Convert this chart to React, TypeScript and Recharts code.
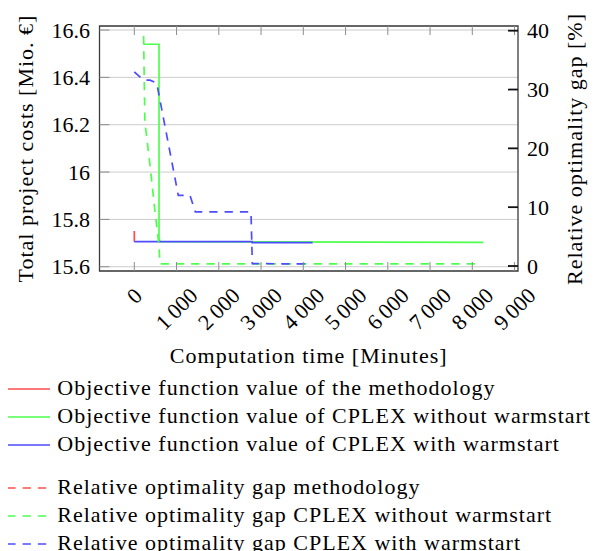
import React from 'react';
import { ComposedChart, Line, XAxis, YAxis, CartesianGrid, ReferenceArea } from 'recharts';

const FONT = 'Liberation Serif';
const FS = 22;

// Axis ticks
const xTicks = [0, 1000, 2000, 3000, 4000, 5000, 6000, 7000, 8000, 9000];
const xTickLabels = ['0', '1\u2009000', '2\u2009000', '3\u2009000', '4\u2009000', '5\u2009000', '6\u2009000', '7\u2009000', '8\u2009000', '9\u2009000'];
const costTicks = [15.6, 15.8, 16, 16.2, 16.4, 16.6];
const costTickLabels = ['15.6', '15.8', '16', '16.2', '16.4', '16.6'];
const gapTicks = [0, 10, 20, 30, 40];
const gapTickLabels = ['0', '10', '20', '30', '40'];

// Objective function values [Mio. €]
const methodObjTime = [0, 0];
const methodObjCost = [15.751, 15.706];
const coldObjTime = [213, 585, 585, 608, 8260];
const coldObjCost = [16.54, 16.54, 15.72, 15.706, 15.703];
const warmObjTime = [0, 2790, 2790, 4220];
const warmObjCost = [15.706, 15.706, 15.702, 15.702];

// Relative optimality gap [%]
const methodGapTime = [0, 0];
const methodGapValue = [0, 0];
const coldGapTime = [220, 250, 371, 490, 585, 605, 8142];
const coldGapValue = [39.1, 24.5, 17.2, 9.2, 3.5, 0.35, 0.35];
const warmGapTime = [0, 213, 371, 530, 1041, 1318, 1444, 2762, 2793, 4118];
const warmGapValue = [33.0, 31.6, 31.6, 31.1, 12.0, 12.0, 9.2, 9.2, 0.4, 0.35];

const legendLabels = [
  'Objective function value of the methodology',
  'Objective function value of CPLEX without warmstart',
  'Objective function value of CPLEX with warmstart',
  'Relative optimality gap methodology',
  'Relative optimality gap CPLEX without warmstart',
  'Relative optimality gap CPLEX with warmstart',
];

const RED = '#ff4d4d';
const GREEN = '#4dff4d';
const BLUE = '#4d4dff';
const legendColors = [RED, GREEN, BLUE, RED, GREEN, BLUE];
const legendDashed = [false, false, false, true, true, true];

const X_DOMAIN: [number, number] = [-824, 9082];
const COST_DOMAIN: [number, number] = [15.582, 16.617];
const GAP_DOMAIN: [number, number] = [-0.85, 40.8];

const toPoints = (t: number[], v: number[]) => t.map((x, i) => ({ t: x, v: v[i] }));

const PLOT_H = 245;

function XTick(props: any) {
  const { x, y, payload } = props;
  const idx = xTicks.indexOf(payload.value);
  const label = idx >= 0 ? xTickLabels[idx] : String(payload.value);
  const digits = label.replace(/[^0-9]/g, '').length;
  const spaces = label.length - digits;
  const L = FS * (0.5 * digits + 0.17 * spaces);
  const ext = (L + 14) * 0.7071;
  const cx = x;
  const cy = y + 16 + ext / 2;
  return (
    <g>
      <line x1={x} x2={x} y1={y} y2={y - 9} stroke="#8c8c8c" strokeWidth={1} />
      <line x1={x} x2={x} y1={y - PLOT_H} y2={y - PLOT_H + 9} stroke="#8c8c8c" strokeWidth={1} />
      <text
        x={cx}
        y={cy}
        textAnchor="middle"
        dominantBaseline="central"
        transform={`rotate(-45 ${cx} ${cy})`}
        fontFamily={FONT}
        fontSize={FS}
        fill="#000"
      >
        {label}
      </text>
    </g>
  );
}

function CostTick(props: any) {
  const { x, y, payload } = props;
  const idx = costTicks.indexOf(payload.value);
  const label = idx >= 0 ? costTickLabels[idx] : String(payload.value);
  return (
    <g>
      <line x1={x} x2={x + 10} y1={y} y2={y} stroke="#8c8c8c" strokeWidth={1} />
      <text x={x - 9.5} y={y + 7.5} textAnchor="end" fontFamily={FONT} fontSize={FS} fill="#000">
        {label}
      </text>
    </g>
  );
}

function GapTick(props: any) {
  const { x, y, payload } = props;
  const idx = gapTicks.indexOf(payload.value);
  const label = idx >= 0 ? gapTickLabels[idx] : String(payload.value);
  return (
    <g>
      <line x1={x - 10} x2={x} y1={y} y2={y} stroke="#111" strokeWidth={1.8} />
      <text x={x + 9} y={y + 7.5} textAnchor="start" fontFamily={FONT} fontSize={FS} fill="#000">
        {label}
      </text>
    </g>
  );
}

export default function App() {
  return (
    <div style={{ position: 'relative', width: 599, height: 543 }}>
      <svg
        width={599}
        height={543}
        style={{ position: 'absolute', left: 0, top: 0, overflow: 'visible', pointerEvents: 'none' }}
      >
        <text x={300.75} y={355} textAnchor="middle" fontFamily={FONT} fontSize={FS} letterSpacing={1} fill="#000">
          Computation time [Minutes]
        </text>
        <text x={25} y={140.5} textAnchor="middle" transform="rotate(-90 25 140.5)" fontFamily={FONT} fontSize={FS} letterSpacing={1} fill="#000">
          Total project costs [Mio. €]
        </text>
        <text x={574} y={141} textAnchor="middle" transform="rotate(-90 574 141)" fontFamily={FONT} fontSize={FS} letterSpacing={1} fill="#000">
          Relative optimality gap [%]
        </text>
        {legendLabels.map((lab, i) => {
          const lineY = [381, 409, 437, 480, 508, 536][i];
          return (
            <g key={lab}>
              <line
                x1={-0.7}
                x2={42}
                y1={lineY}
                y2={lineY}
                stroke={legendColors[i]}
                strokeWidth={1.7}
                strokeDasharray={legendDashed[i] ? '8.3 7' : undefined}
              />
              <text x={49.3} y={lineY + 6} fontFamily={FONT} fontSize={FS} letterSpacing={1} fill="#000">
                {lab}
              </text>
            </g>
          );
        })}
      </svg>
      <ComposedChart
        width={599}
        height={543}
        margin={{ top: 18, right: 0, left: 0, bottom: 0 }}
        style={{ position: 'absolute', left: 0, top: 0 }}
      >
        <CartesianGrid yAxisId="left" horizontal={true} vertical={false} stroke="#cccccc" strokeWidth={1} />
        <XAxis
          dataKey="t"
          type="number"
          domain={X_DOMAIN}
          allowDataOverflow
          ticks={xTicks}
          interval={0}
          height={280}
          tickSize={0}
          tickMargin={0}
          axisLine={false}
          tickLine={false}
          tick={<XTick />}
        />
        <YAxis
          yAxisId="left"
          orientation="left"
          type="number"
          domain={COST_DOMAIN}
          allowDataOverflow
          ticks={costTicks}
          interval={0}
          width={91.5}
          tickSize={0}
          tickMargin={0}
          axisLine={false}
          tickLine={false}
          tick={<CostTick />}
        />
        <YAxis
          yAxisId="right"
          orientation="right"
          type="number"
          domain={GAP_DOMAIN}
          allowDataOverflow
          ticks={gapTicks}
          interval={0}
          width={89}
          tickSize={0}
          tickMargin={0}
          axisLine={false}
          tickLine={false}
          tick={<GapTick />}
        />
        <Line yAxisId="left" data={toPoints(methodObjTime, methodObjCost)} dataKey="v" type="linear" stroke={RED} strokeWidth={1.7} dot={false} isAnimationActive={false} />
        <Line yAxisId="left" data={toPoints(coldObjTime, coldObjCost)} dataKey="v" type="linear" stroke={GREEN} strokeWidth={1.7} dot={false} isAnimationActive={false} />
        <Line yAxisId="left" data={toPoints(warmObjTime, warmObjCost)} dataKey="v" type="linear" stroke={BLUE} strokeWidth={1.7} dot={false} isAnimationActive={false} />
        <Line yAxisId="right" data={toPoints(methodGapTime, methodGapValue)} dataKey="v" type="linear" stroke={RED} strokeWidth={1.7} strokeDasharray="8.3 7" dot={false} isAnimationActive={false} />
        <Line yAxisId="right" data={toPoints(coldGapTime, coldGapValue)} dataKey="v" type="linear" stroke={GREEN} strokeWidth={1.7} strokeDasharray="8.3 7" dot={false} isAnimationActive={false} />
        <Line yAxisId="right" data={toPoints(warmGapTime, warmGapValue)} dataKey="v" type="linear" stroke={BLUE} strokeWidth={1.7} strokeDasharray="8.3 7" dot={false} isAnimationActive={false} />
        <ReferenceArea
          yAxisId="left"
          x1={X_DOMAIN[0]}
          x2={X_DOMAIN[1]}
          y1={COST_DOMAIN[0]}
          y2={COST_DOMAIN[1]}
          fill="none"
          fillOpacity={0}
          stroke="#3c3c3c"
          strokeWidth={1.3}
          ifOverflow="visible"
        />
      </ComposedChart>
    </div>
  );
}
